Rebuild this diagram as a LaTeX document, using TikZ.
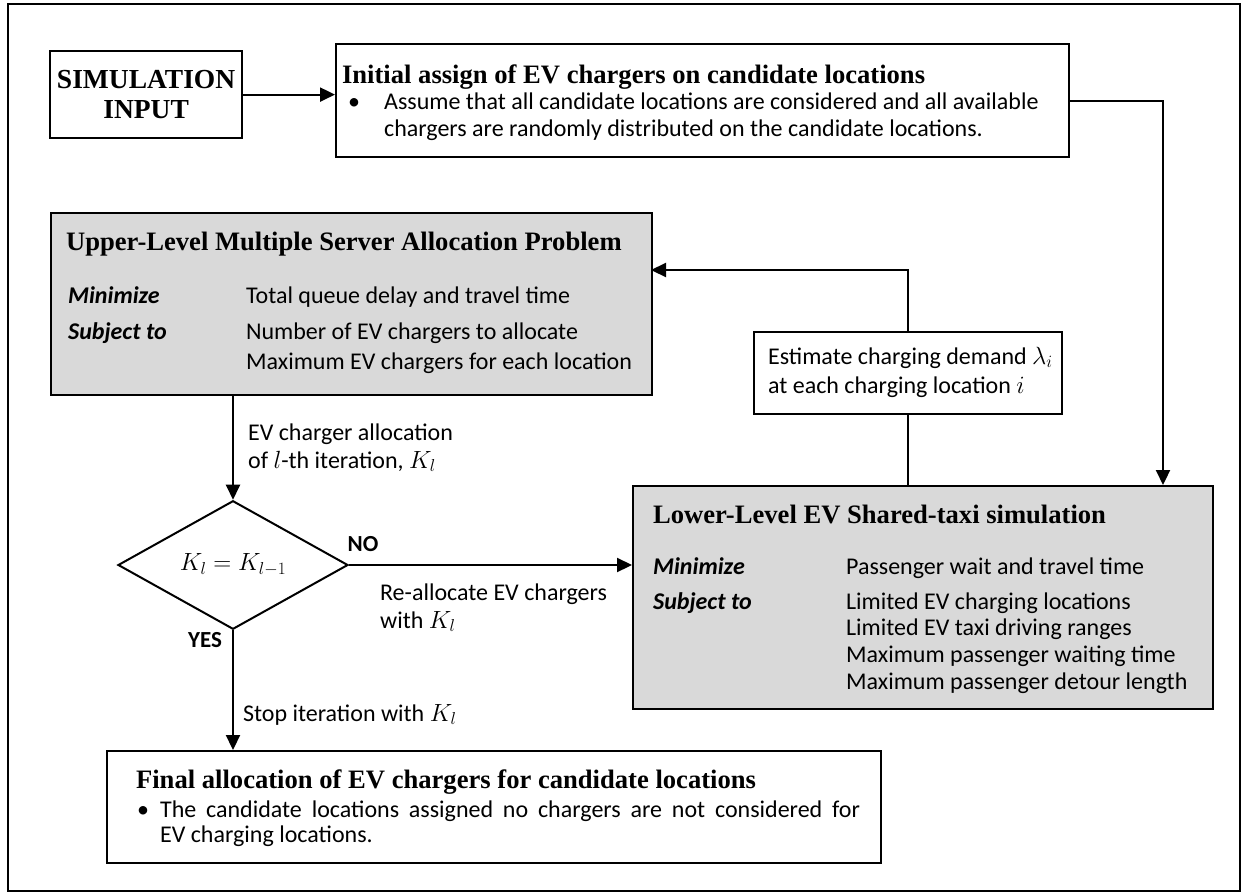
\documentclass[tikz,border=0pt]{standalone}
\usepackage{fontspec}
\setmainfont{Liberation Serif}
\newfontfamily\calib{Carlito}
\usetikzlibrary{arrows.meta,shapes.geometric}
\definecolor{boxgray}{HTML}{D9D9D9}
\begin{document}
\begin{tikzpicture}[x=1pt,y=-1pt, line width=2.2pt,
  box/.style={draw, rectangle, inner sep=0pt, anchor=north west},
  gbox/.style={box, fill=boxgray},
  hd/.style={font=\fontsize{26.6}{30}\selectfont\bfseries, anchor=base west, inner sep=0pt},
  tx/.style={font=\calib\fontsize{24}{27}\selectfont, anchor=base west, inner sep=0pt},
  kw/.style={font=\calib\fontsize{24}{27}\selectfont\bfseries\itshape, anchor=base west, inner sep=0pt},
  yn/.style={font=\calib\fontsize{23}{26}\selectfont\bfseries, inner sep=0pt},
  arr/.style={-{Triangle[length=15pt,width=14pt]}}
]
\useasboundingbox (0,0) rectangle (1242,894);
\draw[line width=2pt] (8,4) rectangle (1240,891);

% boxes
\node[box, minimum width=192pt, minimum height=87pt, align=center,
      font=\fontsize{27.5}{30}\selectfont\bfseries] (sim) at (49,50) {SIMULATION\\INPUT};
\node[box, minimum width=733pt, minimum height=113pt] (init) at (335,43) {};
\node[gbox, minimum width=601pt, minimum height=182pt] (upper) at (50,212) {};
\node[box, minimum width=308pt, minimum height=82pt] (est) at (753,331) {};
\node[gbox, minimum width=580pt, minimum height=223pt] (lower) at (632,485) {};
\node[box, minimum width=774pt, minimum height=112pt] (final) at (106,750) {};
\node[draw, diamond, line width=2pt, minimum width=230pt, minimum height=121pt, inner sep=0pt] (dia) at (233,565)
  {\fontsize{24}{28}\selectfont$K_l = K_{l-1}$};

% initial box text
\node[hd] (inith) at (341,83) {Initial assign of EV chargers on candidate locations};
\node[tx] (initb) at (347,109) {\textbullet};
\node[tx] (init1) at (383,109) {Assume that all candidate locations are considered and all available};
\node[tx] (init2) at (383,136) {chargers are randomly distributed on the candidate locations.};

% upper box text
\node[hd] (uph) at (65,250) {Upper-Level Multiple Server Allocation Problem};
\node[kw] (upk1) at (67,303) {Minimize};
\node[tx] (upt1) at (245,303) {Total queue delay and travel time};
\node[kw] (upk2) at (67,339) {Subject to};
\node[tx] (upt2) at (245,339) {Number of EV chargers to allocate};
\node[tx] (upt3) at (245,369) {Maximum EV chargers for each location};

% estimate box text
\node[tx] (est1) at (767,364) {Estimate charging demand $\lambda_i$};
\node[tx] (est2) at (767,393) {at each charging location $i$};

% lower box text
\node[hd] (loh) at (652,523) {Lower-Level EV Shared-taxi simulation};
\node[kw] (lok1) at (652,574) {Minimize};
\node[tx] (lot1) at (845,574) {Passenger wait and travel time};
\node[kw] (lok2) at (652,609) {Subject to};
\node[tx] (lot2) at (845,609) {Limited EV charging locations};
\node[tx] (lot3) at (845,635) {Limited EV taxi driving ranges};
\node[tx] (lot4) at (845,662) {Maximum passenger waiting time};
\node[tx] (lot5) at (845,689) {Maximum passenger detour length};

% final box text
\node[hd] (finh) at (135,788) {Final allocation of EV chargers for candidate locations};
\node[tx] (finb) at (136,817) {\textbullet};
\node[tx] (fin1) at (159,817) {\makebox[700pt][s]{The candidate locations assigned no chargers are not considered for}};
\node[tx] (fin2) at (159,842) {EV charging locations.};

% connector labels
\node[tx] (lab1) at (247,440) {EV charger allocation};
\node[tx] (lab2) at (247,468) {of $l$-th iteration, $K_l$};
\node[yn] (no) at (363,544) {NO};
\node[yn] (yes) at (205,640) {YES};
\node[tx] (lab3) at (379,600) {Re-allocate EV chargers};
\node[tx] (lab4) at (379,628) {with $K_l$};
\node[tx] (lab5) at (242,721) {Stop iteration with $K_l$};

% connectors
\coordinate (c1) at (1163,485);
\coordinate (c2) at (651,270);
\draw[arr] (sim.east) -- (sim.east -| init.west);
\draw[arr] (init.east) -| (c1);
\draw (lower.north -| est.south) -- (est.south);
\draw[arr] (est.north) |- (c2);
\draw[arr] (upper.south -| dia.north) -- (dia.north);
\draw[arr] (dia.east) -- (dia.east -| lower.west);
\draw[arr] (dia.south) -- (dia.south |- final.north);
\end{tikzpicture}
\end{document}
